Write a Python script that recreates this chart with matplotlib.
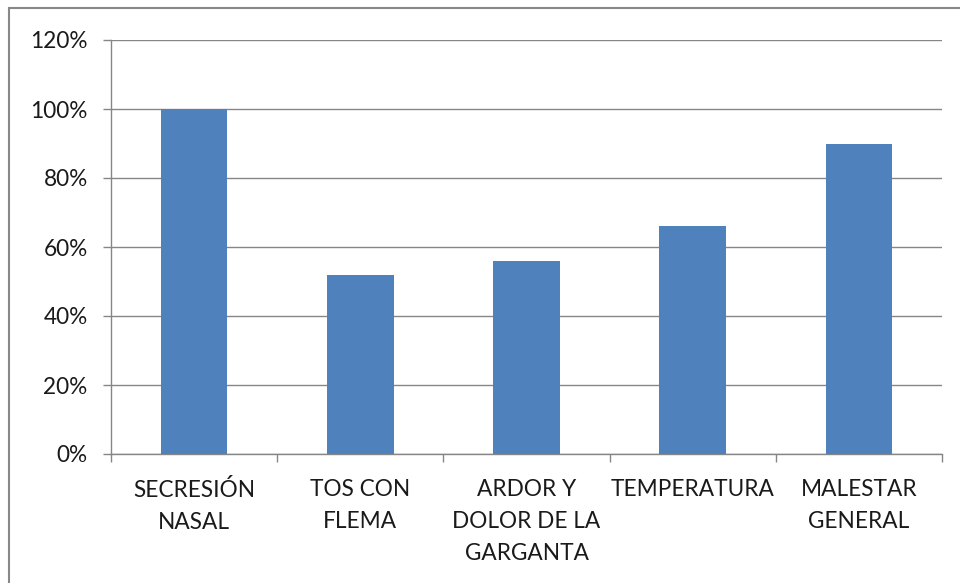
from matplotlib import pyplot as plt
from matplotlib.patches import Rectangle
from matplotlib.ticker import MultipleLocator, FuncFormatter

categories = ["SECRESIÓN\nNASAL", "TOS CON\nFLEMA", "ARDOR Y\nDOLOR DE LA\nGARGANTA", "TEMPERATURA", "MALESTAR\nGENERAL"]
values = [100, 52, 56, 66, 90]

plt.rcParams["font.family"] = ["Lato", "DejaVu Sans"]

fig = plt.figure(figsize = (9.6, 5.83), dpi = 100)
ax = fig.add_axes([111 / 960, 129 / 583, 831 / 960, 414 / 583])

grey = "#868686"
x = list(range(len(categories)))
ax.bar(x, values, width = 0.4, color = "#4f81bd", zorder = 3)

ax.set_xlim(-0.5, len(categories) - 0.5)
ax.set_ylim(0, 120)
ax.yaxis.set_major_locator(MultipleLocator(20))
ax.yaxis.set_major_formatter(FuncFormatter(lambda v, p: f"{v:.0f}%"))
ax.grid(axis = "y", color = grey, linewidth = 1, zorder = 0)

ax.set_xticks(x)
ax.set_xticklabels(categories, linespacing = 1.65, va = "top")
ax.set_xticks([i - 0.5 for i in range(len(categories) + 1)], minor = True)
ax.tick_params(axis = "x", which = "major", length = 0, pad = 18)
ax.tick_params(axis = "x", which = "minor", length = 5.8, color = grey, width = 1)
ax.tick_params(axis = "y", length = 5.8, color = grey, width = 1, pad = 11)
ax.tick_params(labelsize = 16.3, labelcolor = "#1a1a1a")

for side in ["top", "right"]:
    ax.spines[side].set_visible(False)
for side in ["left", "bottom"]:
    ax.spines[side].set_color(grey)
    ax.spines[side].set_linewidth(1)

# chart area border, cut off on right and bottom
fig.patches.append(Rectangle((9 / 960, -0.1), 1.2, 1.1 - 8 / 583, transform = fig.transFigure,
                             fill = False, edgecolor = "#888888", linewidth = 1.5))

plt.savefig("out.png", dpi = 100)
